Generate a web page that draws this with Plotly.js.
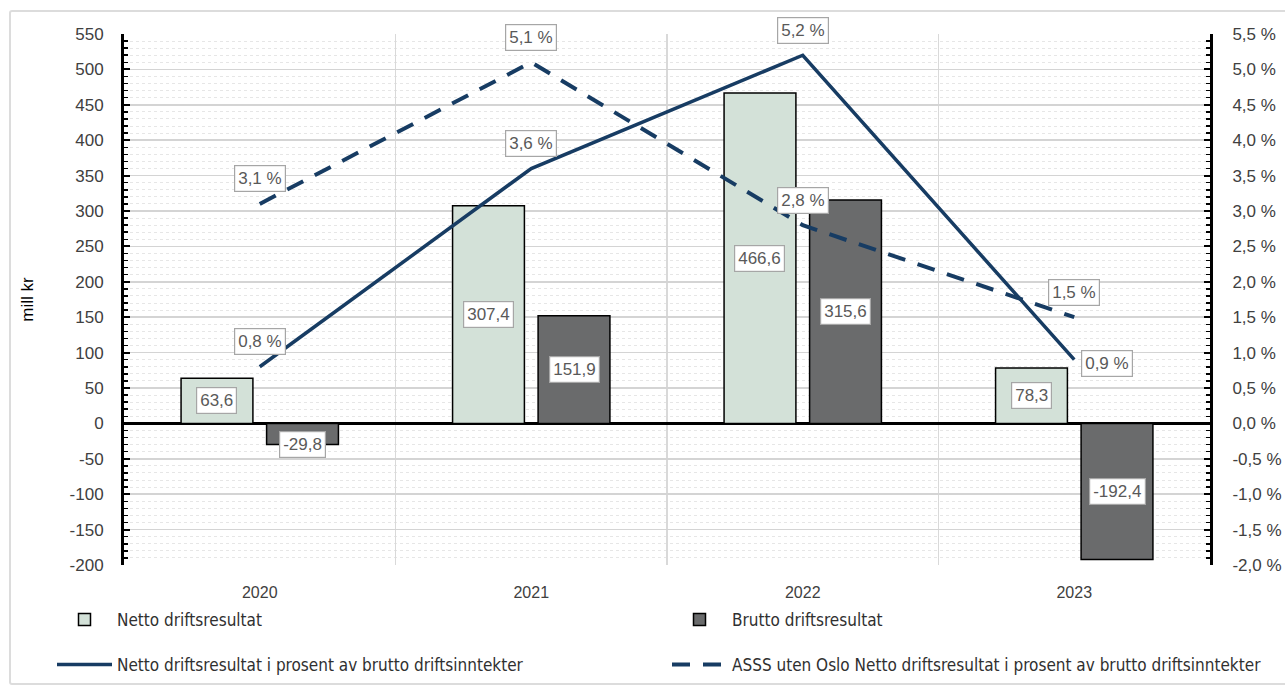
<!DOCTYPE html>
<html>
<head>
<meta charset="utf-8">
<script src="https://cdn.plot.ly/plotly-3.0.1.min.js"></script>
<style>
  html, body { margin: 0; padding: 0; background: #ffffff; }
  #wrap { position: relative; width: 1285px; height: 687px; overflow: hidden; }
  #chart { width: 1285px; height: 687px; }
  #frame { position: absolute; left: 9px; top: 10px; width: 1300px; height: 671px;
           border: 2px solid #dcdcdc; border-radius: 3px; pointer-events: none; }
</style>
</head>
<body>
<div id="wrap">
  <div id="chart"></div>
  <div id="frame"></div>
</div>
<script>
// ---- data ----
const years = ['2020', '2021', '2022', '2023'];
const nettoDrift = [63.6, 307.4, 466.6, 78.3];
const bruttoDrift = [-29.8, 151.9, 315.6, -192.4];
const nettoPct = [0.8, 3.6, 5.2, 0.9];
const asssPct = [3.1, 5.1, 2.8, 1.5];

const leftTickVals = [-200, -150, -100, -50, 0, 50, 100, 150, 200, 250, 300, 350, 400, 450, 500, 550];
const leftTickText = ['-200', '-150', '-100', '-50', '0', '50', '100', '150', '200', '250', '300', '350', '400', '450', '500', '550'];
const rightTickVals = [-2.0, -1.5, -1.0, -0.5, 0.0, 0.5, 1.0, 1.5, 2.0, 2.5, 3.0, 3.5, 4.0, 4.5, 5.0, 5.5];
const rightTickText = ['-2,0 %', '-1,5 %', '-1,0 %', '-0,5 %', '0,0 %', '0,5 %', '1,0 %', '1,5 %', '2,0 %', '2,5 %', '3,0 %', '3,5 %', '4,0 %', '4,5 %', '5,0 %', '5,5 %'];

const names = {
  netto: 'Netto driftsresultat',
  brutto: 'Brutto driftsresultat',
  nettoPct: 'Netto driftsresultat i prosent av brutto driftsinntekter',
  asssPct: 'ASSS uten Oslo Netto driftsresultat i prosent av brutto driftsinntekter'
};

// ---- styles ----
const FONT = 'Liberation Sans, Arial, sans-serif';
const NARROW = 'DejaVu Sans Condensed, Liberation Sans, sans-serif';
const TXT = '#404040';
const LINE_BLUE = '#173c63';
const fmt = v => v.toFixed(1).replace('.', ',');

const traces = [
  {
    type: 'bar', x: years, y: nettoDrift, name: names.netto, yaxis: 'y',
    marker: { color: '#d3e1d8', line: { color: '#000000', width: 1.5 } },
    legend: 'legend', hoverinfo: 'skip'
  },
  {
    type: 'bar', x: years, y: bruttoDrift, name: names.brutto, yaxis: 'y',
    marker: { color: '#6a6b6c', line: { color: '#000000', width: 1.5 } },
    legend: 'legend2', hoverinfo: 'skip'
  },
  {
    type: 'scatter', mode: 'lines', x: years, y: nettoPct, name: names.nettoPct, yaxis: 'y2',
    line: { color: LINE_BLUE, width: 3.5 },
    legend: 'legend3', hoverinfo: 'skip'
  },
  {
    type: 'scatter', mode: 'lines', x: years, y: asssPct, name: names.asssPct, yaxis: 'y2',
    line: { color: LINE_BLUE, width: 4, dash: '18px,13px' },
    legend: 'legend4', hoverinfo: 'skip'
  }
];

const boxStyle = {
  showarrow: false, bgcolor: '#ffffff', bordercolor: '#a6a6a6', borderwidth: 1.2,
  borderpad: 3, font: { family: FONT, size: 17, color: '#595959' }
};

const annotations = [];
const barOffset = 0.158;
nettoDrift.forEach((v, i) => {
  annotations.push(Object.assign({}, boxStyle, {
    xref: 'x', yref: 'y', x: i - barOffset, y: Math.abs(v) < 40 ? v : v / 2, text: fmt(v)
  }));
});
bruttoDrift.forEach((v, i) => {
  annotations.push(Object.assign({}, boxStyle, {
    xref: 'x', yref: 'y', x: i + barOffset, y: Math.abs(v) < 40 ? v : v / 2, text: fmt(v)
  }));
});
asssPct.forEach((v, i) => {
  annotations.push(Object.assign({}, boxStyle, {
    xref: 'x', yref: 'y2', x: i, y: v, yshift: 25, text: fmt(v) + ' %'
  }));
});
nettoPct.forEach((v, i) => {
  const last = i === nettoPct.length - 1;
  annotations.push(Object.assign({}, boxStyle, {
    xref: 'x', yref: 'y2', x: i, y: v, yshift: last ? -4 : 25, xshift: last ? 33 : 0, text: fmt(v) + ' %'
  }));
});

const legendCommon = {
  orientation: 'h', xref: 'container', yref: 'container', xanchor: 'left', yanchor: 'middle',
  itemwidth: 55,
  font: { family: NARROW, size: 17, color: '#303030' }, bgcolor: 'rgba(0,0,0,0)', traceorder: 'normal'
};
const col1 = 52 / 1285, col2 = 667 / 1285, row1 = 1 - 620 / 687, row2 = 1 - 665 / 687;

const layout = {
  width: 1285, height: 687,
  margin: { l: 124, r: 75, t: 34, b: 122 },
  paper_bgcolor: '#ffffff', plot_bgcolor: '#ffffff',
  separators: ', ',
  font: { family: FONT, size: 16, color: TXT },
  barmode: 'group', bargap: 0.37, bargroupgap: 0.16,
  showlegend: true,
  legend: Object.assign({}, legendCommon, { x: col1, y: row1 }),
  legend2: Object.assign({}, legendCommon, { x: col2, y: row1 }),
  legend3: Object.assign({}, legendCommon, { x: col1, y: row2 }),
  legend4: Object.assign({}, legendCommon, { x: col2, y: row2 }),
  xaxis: {
    type: 'category', tickson: 'boundaries', showgrid: true, gridcolor: '#d9d9d9', gridwidth: 1.5,
    ticks: '', showline: false, zeroline: false,
    tickfont: { family: FONT, size: 16, color: TXT }, ticklabelstandoff: 16, fixedrange: true
  },
  yaxis: {
    range: [-200, 550], tickmode: 'array', tickvals: leftTickVals, ticktext: leftTickText,
    showgrid: true, gridcolor: '#d4d4d4', gridwidth: 1.5,
    zeroline: true, zerolinecolor: '#000000', zerolinewidth: 3,
    showline: true, linecolor: '#000000', linewidth: 3,
    ticks: 'inside', ticklen: 6, tickwidth: 2, tickcolor: '#000000',
    minor: { tick0: 0, dtick: 10, ticks: 'inside', ticklen: 4, tickwidth: 1.5, tickcolor: '#000000',
             showgrid: true, gridcolor: '#e6e6e6', gridwidth: 1, griddash: 'dot' },
    tickfont: { family: FONT, size: 17, color: TXT }, ticklabelstandoff: 14,
    title: { text: 'mill kr', font: { family: FONT, size: 17, color: '#000000' }, standoff: 32 },
    fixedrange: true
  },
  yaxis2: {
    overlaying: 'y', side: 'right', range: [-2, 5.5],
    tickmode: 'array', tickvals: rightTickVals, ticktext: rightTickText,
    showgrid: false, zeroline: false,
    showline: true, linecolor: '#000000', linewidth: 3,
    ticks: 'inside', ticklen: 6, tickwidth: 2, tickcolor: '#000000',
    minor: { tick0: 0, dtick: 0.1, ticks: 'inside', ticklen: 4, tickwidth: 1.5, tickcolor: '#000000', showgrid: false },
    tickfont: { family: FONT, size: 17, color: TXT }, ticklabelstandoff: 16,
    fixedrange: true
  },
  annotations: annotations
};

Plotly.newPlot('chart', traces, layout, { displayModeBar: false, staticPlot: true });
</script>
</body>
</html>
